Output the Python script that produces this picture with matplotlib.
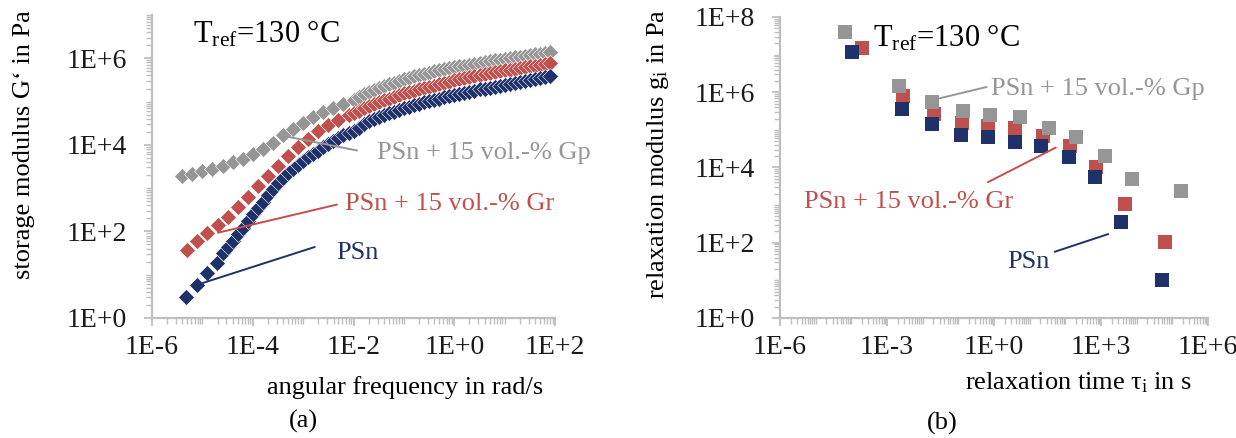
import numpy as np
import matplotlib
matplotlib.use("Agg")
from matplotlib import pyplot as plt
from matplotlib.ticker import LogLocator, FuncFormatter, NullFormatter

plt.rcParams['font.family'] = ['Liberation Serif', 'DejaVu Serif']
plt.rcParams['mathtext.fontset'] = 'custom'
plt.rcParams['mathtext.rm'] = 'Liberation Serif'
plt.rcParams['mathtext.it'] = 'Liberation Serif:italic'

# colours (Excel-like)
c_psn = '#1f3169'
c_gr = '#c0504d'
c_gp = '#969696'
c_axis = '#bfbfbf'

# ---------------- (a) storage modulus master curves, log10 values ----------------
log_w_gp = [-5.4, -5.2, -5.0, -4.8, -4.6, -4.4, -4.2, -4.0, -3.8, -3.6, -3.4, -3.2, -3.0,
            -2.8, -2.6, -2.4, -2.2,
            -2.0, -1.9, -1.8, -1.7, -1.6, -1.5, -1.4, -1.3, -1.2, -1.1, -1.0, -0.9, -0.8,
            -0.7, -0.6, -0.5, -0.4, -0.3, -0.2, -0.1, 0.0, 0.1, 0.2, 0.3, 0.4, 0.5, 0.6,
            0.7, 0.8, 0.9, 1.0, 1.1, 1.2, 1.3, 1.4, 1.5, 1.6, 1.7, 1.8, 1.9]
log_G_gp = [3.27, 3.33, 3.39, 3.45, 3.52, 3.60, 3.68, 3.78, 3.90, 4.04, 4.22, 4.37, 4.50,
            4.64, 4.75, 4.86, 4.95,
            5.04, 5.10, 5.17, 5.22, 5.27, 5.32, 5.36, 5.40, 5.44, 5.48, 5.51, 5.55, 5.58,
            5.61, 5.64, 5.67, 5.70, 5.72, 5.75, 5.77, 5.79, 5.81, 5.83, 5.85, 5.87, 5.89, 5.91,
            5.93, 5.95, 5.97, 5.99, 6.00, 6.02, 6.04, 6.06, 6.07, 6.09, 6.11, 6.12, 6.14]

log_w_gr = [-5.3, -5.1, -4.9, -4.7, -4.5, -4.3, -4.1, -3.9, -3.7, -3.5, -3.3, -3.1, -2.9,
            -2.7, -2.5, -2.3, -2.1,
            -2.0, -1.9, -1.8, -1.7, -1.6, -1.5, -1.4, -1.3, -1.2, -1.1, -1.0, -0.9, -0.8,
            -0.7, -0.6, -0.5, -0.4, -0.3, -0.2, -0.1, 0.0, 0.1, 0.2, 0.3, 0.4, 0.5, 0.6,
            0.7, 0.8, 0.9, 1.0, 1.1, 1.2, 1.3, 1.4, 1.5, 1.6, 1.7, 1.8, 1.9]
log_G_gr = [1.56, 1.78, 1.96, 2.14, 2.34, 2.57, 2.80, 3.05, 3.28, 3.51, 3.74, 3.95, 4.14,
            4.31, 4.46, 4.58, 4.70,
            4.74, 4.79, 4.84, 4.89, 4.94, 4.99, 5.03, 5.07, 5.11, 5.15, 5.19, 5.22, 5.25,
            5.28, 5.31, 5.34, 5.37, 5.40, 5.43, 5.46, 5.49, 5.51, 5.54, 5.56, 5.59, 5.61, 5.63,
            5.66, 5.68, 5.70, 5.72, 5.74, 5.76, 5.78, 5.80, 5.82, 5.83, 5.85, 5.87, 5.88]

log_w_psn = [-5.33, -5.11, -4.91, -4.72,
             -4.6, -4.5, -4.4, -4.3, -4.2, -4.1, -4.0, -3.9, -3.8, -3.7, -3.6, -3.5, -3.4,
             -3.3, -3.2, -3.1, -3.0, -2.9, -2.8, -2.7, -2.6, -2.5, -2.4, -2.3, -2.2, -2.1,
             -2.0, -1.9, -1.8, -1.7, -1.6, -1.5, -1.4, -1.3, -1.2, -1.1, -1.0, -0.9, -0.8,
             -0.7, -0.6, -0.5, -0.4, -0.3, -0.2, -0.1, 0.0, 0.1, 0.2, 0.3, 0.4, 0.5, 0.6,
             0.7, 0.8, 0.9, 1.0, 1.1, 1.2, 1.3, 1.4, 1.5, 1.6, 1.7, 1.8, 1.9]
log_G_psn = [0.48, 0.76, 1.03, 1.28,
             1.50, 1.65, 1.79, 1.93, 2.09, 2.25, 2.40, 2.54, 2.68, 2.83, 2.98, 3.11, 3.24,
             3.35, 3.45, 3.54, 3.63, 3.71, 3.78, 3.86, 3.94, 4.01, 4.08, 4.15, 4.22, 4.28,
             4.33, 4.39, 4.47, 4.54, 4.60, 4.65, 4.70, 4.74, 4.77, 4.81, 4.85, 4.88, 4.91,
             4.95, 4.98, 5.02, 5.04, 5.07, 5.10, 5.12, 5.15, 5.18, 5.20, 5.23, 5.25, 5.28, 5.30,
             5.32, 5.34, 5.37, 5.39, 5.41, 5.43, 5.45, 5.47, 5.49, 5.52, 5.54, 5.56, 5.58]

# ---------------- (b) discrete relaxation spectra, log10 values ----------------
log_tau_gp = [-4.18, -2.67, -1.74, -0.88, -0.10, 0.72, 1.53, 2.31, 3.10, 3.88, 5.23]
log_g_gp = [7.61, 6.17, 5.73, 5.51, 5.40, 5.34, 5.06, 4.82, 4.31, 3.70, 3.38]
log_tau_gr = [-3.71, -2.56, -1.69, -0.91, -0.18, 0.58, 1.36, 2.14, 2.87, 3.66, 4.78]
log_g_gr = [7.17, 5.89, 5.43, 5.18, 5.11, 5.05, 4.84, 4.58, 4.02, 3.03, 2.03]
log_tau_psn = [-3.99, -2.59, -1.75, -0.94, -0.18, 0.58, 1.31, 2.10, 2.82, 3.57, 4.71]
log_g_psn = [7.06, 5.56, 5.16, 4.87, 4.80, 4.69, 4.56, 4.29, 3.76, 2.56, 1.01]

lbl_psn = 'PSn'
lbl_gr = 'PSn + 15 vol.-% Gr'
lbl_gp = 'PSn + 15 vol.-% Gp'
t_ref = 'T$_{\\mathrm{ref}}$=130 °C'

fs = 19
fs_tick = 20


def p10(v):
    return np.power(10.0, np.array(v))


def exp_fmt(v, pos):
    return '1E%+d' % int(round(np.log10(v)))


def style_axis(ax, xmajor, ymajor):
    ax.set_xscale('log')
    ax.set_yscale('log')
    for s in ['top', 'right']:
        ax.spines[s].set_visible(False)
    for s in ['left', 'bottom']:
        ax.spines[s].set_color(c_axis)
        ax.spines[s].set_linewidth(1.6)
    ax.xaxis.set_major_locator(LogLocator(base=xmajor, numticks=30))
    ax.yaxis.set_major_locator(LogLocator(base=ymajor, numticks=30))
    ax.xaxis.set_minor_locator(LogLocator(base=10, subs=np.arange(1, 10), numticks=100))
    ax.yaxis.set_minor_locator(LogLocator(base=10, subs=np.arange(1, 10), numticks=100))
    ax.xaxis.set_major_formatter(FuncFormatter(exp_fmt))
    ax.yaxis.set_major_formatter(FuncFormatter(exp_fmt))
    ax.xaxis.set_minor_formatter(NullFormatter())
    ax.yaxis.set_minor_formatter(NullFormatter())
    ax.tick_params(which='major', direction='out', length=6, width=1.3, color=c_axis,
                   labelsize=fs_tick, labelcolor='#1a1a1a')
    ax.tick_params(axis='x', which='major', pad=6)
    ax.tick_params(axis='y', which='major', pad=12)
    ax.tick_params(which='minor', direction='out', length=4.5, width=1.0, color=c_axis)


def leader(ax, x0, y0, x1, y1, col):
    ax.annotate('', xy=(x0, y0), xytext=(x1, y1),
                arrowprops=dict(arrowstyle='-', color=col, lw=1.4, shrinkA=0, shrinkB=0))


fig = plt.figure(figsize=(12.36, 4.38), dpi=100)

# ----- panel (a)
ax1 = fig.add_axes([0.1230, 0.2740, 0.3261, 0.6918])
kw = dict(linestyle='none', marker='D', markersize=8.5, markeredgecolor='white',
          markeredgewidth=0.4, clip_on=False)
ax1.plot(p10(log_w_gp), p10(log_G_gp), color=c_gp, **kw)
ax1.plot(p10(log_w_gr), p10(log_G_gr), color=c_gr, **kw)
ax1.plot(p10(log_w_psn), p10(log_G_psn), color=c_psn, **kw)
style_axis(ax1, 100, 100)
ax1.set_xlim(1e-6, 1e2)
ax1.set_ylim(1e0, 1e7)

ax1.text(10**-5.19, 10**6.37, t_ref, fontsize=22, va='baseline', ha='left')
leader(ax1, 10**-3.32, 10**4.19, 10**-1.93, 10**3.87, c_gp)
ax1.text(10**-1.54, 10**3.80, lbl_gp, color=c_gp, fontsize=fs, va='center', ha='left')
leader(ax1, 10**-4.69, 10**1.97, 10**-2.33, 10**2.62, c_gr)
ax1.text(10**-2.17, 10**2.64, lbl_gr, color=c_gr, fontsize=fs, va='center', ha='left')
leader(ax1, 10**-4.99, 10**0.81, 10**-2.77, 10**1.64, c_psn)
ax1.text(10**-2.35, 10**1.50, lbl_psn, color=c_psn, fontsize=fs, va='center', ha='left')

# ----- panel (b)
ax2 = fig.add_axes([0.6311, 0.2740, 0.3463, 0.6872])
kw = dict(linestyle='none', marker='s', markersize=10, markeredgewidth=0, clip_on=False)
ax2.plot(p10(log_tau_gr), p10(log_g_gr), color=c_gr, **kw)
ax2.plot(p10(log_tau_gp), p10(log_g_gp), color=c_gp, **kw)
ax2.plot(p10(log_tau_psn), p10(log_g_psn), color=c_psn, **kw)
style_axis(ax2, 1000, 100)
ax2.set_xlim(1e-6, 1e6)
ax2.set_ylim(1e0, 1e8)

ax2.text(10**-3.39, 10**7.21, t_ref, fontsize=22, va='baseline', ha='left')
leader(ax2, 10**-1.52, 10**5.84, 10**-0.21, 10**6.14, c_gp)
ax2.text(10**-0.09, 10**6.09, lbl_gp, color=c_gp, fontsize=fs, va='center', ha='left')
leader(ax2, 10**-0.17, 10**3.61, 10**1.73, 10**4.53, c_gr)
ax2.text(10**-5.33, 10**3.09, lbl_gr, color=c_gr, fontsize=fs, va='center', ha='left')
leader(ax2, 10**1.70, 10**1.76, 10**3.20, 10**2.23, c_psn)
ax2.text(10**0.36, 10**1.49, lbl_psn, color=c_psn, fontsize=fs, va='center', ha='left')

# axis titles and panel letters
fig.text(0.3277, 0.1164, 'angular frequency in rad/s', fontsize=fs, ha='center', va='center')
fig.text(0.8730, 0.1256, 'relaxation time τ$_{\\mathrm{i}}$ in s', fontsize=fs,
         ha='center', va='center')
fig.text(0.0194, 0.669, 'storage modulus G‘ in Pa', fontsize=fs, rotation=90,
         ha='center', va='center')
fig.text(0.532, 0.648, 'relaxation modulus g$_{\\mathrm{i}}$ in Pa', fontsize=fs,
         rotation=90, ha='center', va='center')
fig.text(303 / 1236, 1 - 421 / 438, '(a)', fontsize=fs, ha='center', va='center')
fig.text(942 / 1236, 1 - 423 / 438, '(b)', fontsize=fs, ha='center', va='center')

fig.savefig('out.png', dpi=100)
